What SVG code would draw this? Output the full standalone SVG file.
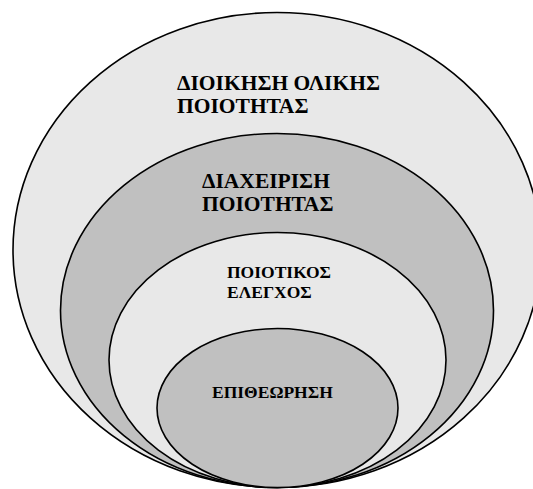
<svg xmlns="http://www.w3.org/2000/svg" width="533" height="489" viewBox="0 0 533 489">
  <style>
    .ring { stroke: #000; stroke-width: 1.6; }
    .light { fill: #e8e8e8; }
    .dark { fill: #c0c0c0; }
    .lbl { font-family: "Liberation Serif", "Times New Roman", serif; font-weight: bold; fill: #000; }
    .big { font-size: 21.5px; }
    .small { font-size: 17.5px; }
  </style>
  <rect width="533" height="489" fill="#fff"/>
  <!-- nested quality levels, outermost first -->
  <g id="tqm">
    <ellipse class="ring light" cx="277" cy="250" rx="264" ry="237.5"/>
    <text class="lbl big" x="177" y="90">ΔΙΟΙΚΗΣΗ ΟΛΙΚΗΣ</text>
    <text class="lbl big" x="177" y="113">ΠΟΙΟΤΗΤΑΣ</text>
  </g>
  <g id="qm">
    <ellipse class="ring dark" cx="277" cy="310.5" rx="216.5" ry="177"/>
    <text class="lbl big" x="202" y="188">ΔΙΑΧΕΙΡΙΣΗ</text>
    <text class="lbl big" x="202" y="211">ΠΟΙΟΤΗΤΑΣ</text>
  </g>
  <g id="qc">
    <ellipse class="ring light" cx="277.5" cy="360" rx="168.5" ry="127.5"/>
    <text class="lbl small" x="227" y="278">ΠΟΙΟΤΙΚΟΣ</text>
    <text class="lbl small" x="227" y="298">ΕΛΕΓΧΟΣ</text>
  </g>
  <g id="inspection">
    <ellipse class="ring dark" cx="277.5" cy="408" rx="120.5" ry="79.5"/>
    <text class="lbl small" x="212" y="398">ΕΠΙΘΕΩΡΗΣΗ</text>
  </g>
</svg>
